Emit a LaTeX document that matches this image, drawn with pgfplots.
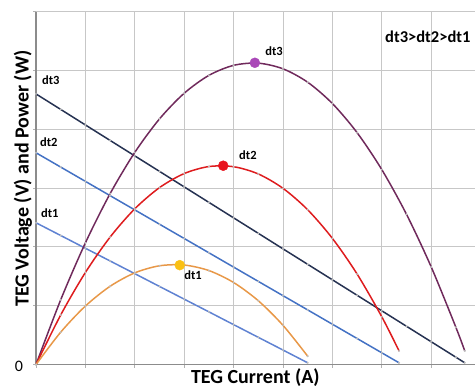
\documentclass[border=0pt]{standalone}
\usepackage{fontspec}
\setmainfont{Carlito}
\usepackage{pgfplots}
\pgfplotsset{compat=1.18}
\definecolor{cV3}{RGB}{38,50,82}
\definecolor{cV2}{RGB}{68,114,196}
\definecolor{cV1}{RGB}{95,130,210}
\definecolor{cP3}{RGB}{112,42,92}
\definecolor{cP2}{RGB}{222,28,30}
\definecolor{cP1}{RGB}{232,152,72}
\definecolor{mP3}{RGB}{170,72,184}
\definecolor{mP2}{RGB}{232,20,30}
\definecolor{mP1}{RGB}{250,192,20}
\begin{document}
\begin{tikzpicture}
\begin{axis}[
  scale only axis, width=439pt, height=353pt,
  xmin=0, xmax=8.887, ymin=0, ymax=6,
  xtick={0,1,...,8}, ytick={0,1,...,6},
  xticklabels={}, yticklabels={},
  grid=major, grid style={draw=black!22, line width=0.9pt},
  axis lines=left, axis line style={-, draw=black!45, line width=1.4pt},
  tick align=outside, major tick length=3pt,
  tick style={draw=black!30, line width=0.9pt},
  clip=false,
  ln/.style={line width=1.5pt, mark=*, mark size=0.9pt,
     mark options={draw=gray!50, fill=gray!50, line width=0.2pt}},
  pk/.style={only marks, mark=*, mark size=5pt, mark options={draw=#1, fill=#1}},
]
% voltage lines
\addplot[cV3, ln] coordinates {(0,4.60)(0.5,4.337)(1,4.073)(1.5,3.810)(2,3.547)(2.5,3.284)(3,3.020)(3.5,2.757)(4,2.494)(4.5,2.231)(5,1.967)(5.5,1.704)(6,1.441)(6.5,1.178)(7,0.914)(7.5,0.651)(8,0.388)(8.5,0.125)(8.68,0.03)};
\addplot[cV2, ln] coordinates {(0,3.6)(0.5,3.357)(1,3.114)(1.5,2.871)(2,2.629)(2.5,2.386)(3,2.143)(3.5,1.900)(4,1.657)(4.5,1.414)(5,1.171)(5.5,0.929)(6,0.686)(6.5,0.443)(7,0.200)(7.35,0.03)};
\addplot[cV1, ln] coordinates {(0,2.41)(0.5,2.194)(1,1.977)(1.5,1.761)(2,1.545)(2.5,1.328)(3,1.112)(3.5,0.896)(4,0.679)(4.5,0.463)(5,0.247)(5.5,0.03)};
% power curves
\addplot[cP3, ln, smooth] coordinates {(0,0)(0.5,1.101)(1,2.069)(1.5,2.905)(2,3.607)(2.5,4.176)(3,4.612)(3.5,4.916)(4,5.086)(4.5,5.123)(5,5.027)(5.5,4.799)(6,4.437)(6.5,3.942)(7,3.314)(7.5,2.554)(8,1.660)(8.5,0.633)(8.68,0.231)};
\addplot[cP2, ln, smooth] coordinates {(0,0)(0.5,0.843)(1,1.566)(1.5,2.167)(2,2.648)(2.5,3.008)(3,3.247)(3.5,3.366)(4,3.363)(4.5,3.240)(5,2.996)(5.5,2.631)(6,2.145)(6.5,1.539)(7,0.812)(7.35,0.231)};
\addplot[cP1, ln, smooth] coordinates {(0,0)(0.5,0.551)(1,0.995)(1.5,1.331)(2,1.559)(2.5,1.679)(3,1.692)(3.5,1.598)(4,1.395)(4.5,1.085)(5,0.667)(5.5,0.142)};
% peak markers
\addplot[mP3, pk=mP3] coordinates {(4.43,5.13)};
\addplot[mP2, pk=mP2] coordinates {(3.79,3.38)};
\addplot[mP1, pk=mP1] coordinates {(2.91,1.69)};
% labels
\begin{scope}[every node/.style={font=\fontsize{12.5}{14}\selectfont\bfseries, inner sep=0pt, anchor=base west}]
\node at (axis cs:0.12,4.754) {dt3};
\node at (axis cs:0.08,3.70) {dt2};
\node at (axis cs:0.10,2.50) {dt1};
\node at (axis cs:4.64,5.26) {dt3};
\node at (axis cs:4.11,3.48) {dt2};
\node at (axis cs:3.0,1.443) {dt1};
\end{scope}
\node[font=\fontsize{16.5}{18}\selectfont\bfseries, inner sep=0pt, anchor=base west] at (axis cs:7.065,5.467) {dt3>dt2>dt1};
\node[font=\fontsize{20}{22}\selectfont\bfseries, inner sep=0pt, anchor=base, rotate=90] at (axis cs:-0.152,3.16) {TEG Voltage (V) and Power (W)};
\node[font=\fontsize{20}{22}\selectfont\bfseries, inner sep=0pt, anchor=base] at (axis cs:4.44,-0.33) {TEG Current (A)};
\node[font=\fontsize{16}{18}\selectfont, inner sep=0pt] at (axis cs:-0.344,-0.034) {0};
\coordinate (bbsw) at (axis cs:-0.729,-0.407);
\coordinate (bbne) at (axis cs:8.887,6.197);
\end{axis}
\pgfresetboundingbox
\useasboundingbox (bbsw) rectangle (bbne);
\end{tikzpicture}
\end{document}
